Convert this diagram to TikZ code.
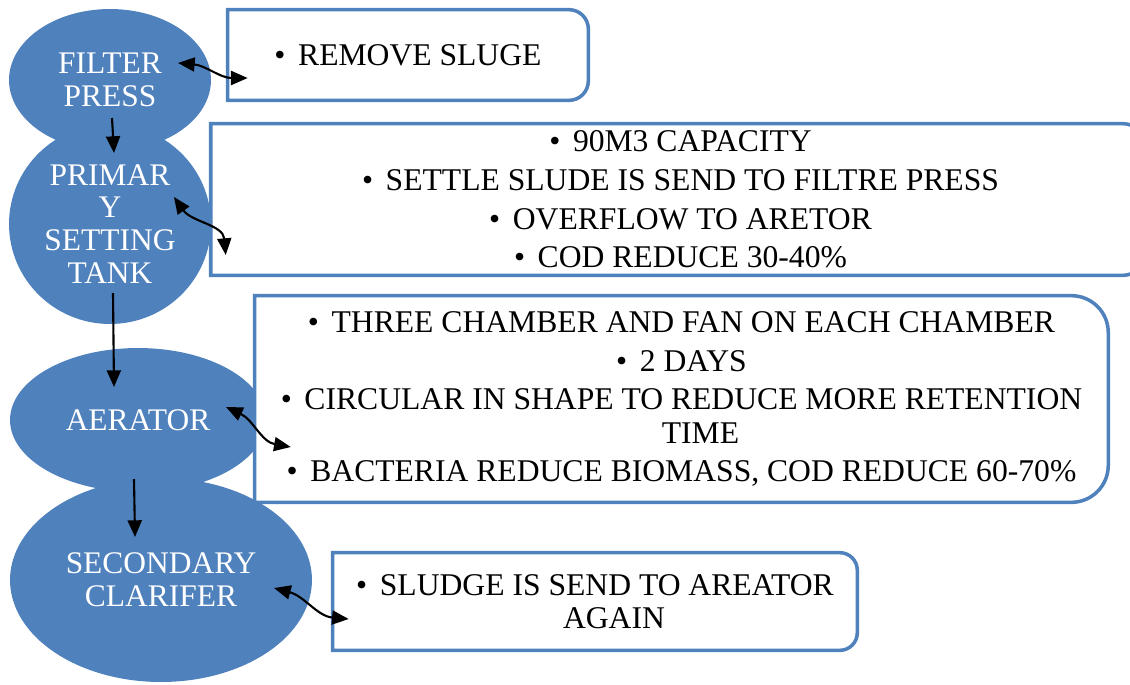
\documentclass[tikz,border=0pt]{standalone}
\usepackage{fontspec}
\setmainfont{Liberation Serif}
\usetikzlibrary{shapes.geometric,arrows.meta}

\definecolor{stageblue}{HTML}{4F81BD}

\tikzset{
  stage/.style={ellipse, fill=stageblue, text=white, inner sep=0pt, align=center,
    font=\fontsize{17.9pt}{18.7pt}\selectfont},
  note/.style={rectangle, fill=white, inner sep=0pt, align=center,
    font=\fontsize{18pt}{19pt}\selectfont},
  flow/.style={-{Triangle[length=9.5pt,width=8pt]}, line width=1.2pt},
  link/.style={{Triangle[length=9.5pt,width=8pt]}-{Triangle[length=9.5pt,width=8pt]}, line width=1.2pt},
}

% bullet of a note line
\newcommand{\bul}{•\hspace{0.4em}}

% frame of a note, round on its right side only
\newcommand{\noteframe}[2]{%
  \draw[stageblue, line width=2pt] (#1.south west) -- (#1.north west)
    -- ([xshift=-#2]#1.north east) arc[start angle=90, end angle=0, radius=#2]
    -- ([yshift=#2]#1.south east) arc[start angle=0, end angle=-90, radius=#2]
    -- cycle;}

\begin{document}
\begin{tikzpicture}[x=0.02cm, y=-0.02cm]
  \useasboundingbox (0, 0) rectangle (1130, 684);

  % stages
  \node[stage, minimum width=4.04cm, minimum height=2.84cm] (fp) at (110, 80) {FILTER\\PRESS};
  \node[stage, minimum width=4.04cm, minimum height=4.0cm] (pst) at (110, 224) {PRIMAR\\Y\\SETTING\\TANK};
  \node[stage, minimum width=5.12cm, minimum height=2.88cm] (aer) at (138, 420) {AERATOR};
  \node[stage, minimum width=6.04cm, minimum height=4.08cm] (sec) at (161, 580) {SECONDARY\\CLARIFER};

  % notes
  \node[note, minimum width=7.2cm, minimum height=1.8cm] (n1) at (408, 55) {\bul REMOVE SLUGE};
  \noteframe{n1}{11pt}
  \node[note, minimum width=18.78cm, minimum height=3.02cm] (n2) at (680.5, 199.5)
    {\bul 90M3 CAPACITY\\[3pt]\bul SETTLE SLUDE IS SEND TO FILTRE PRESS\\[3pt]\bul OVERFLOW TO ARETOR\\[3pt]\bul COD REDUCE 30-40\%};
  \noteframe{n2}{16pt}
  \node[note, minimum width=17.06cm, minimum height=4.12cm] (n3) at (681.5, 399)
    {\bul THREE CHAMBER AND FAN ON EACH CHAMBER\\[3pt]\bul 2 DAYS\\[3pt]\bul CIRCULAR IN SHAPE TO REDUCE MORE RETENTION\\\hspace*{1.2em}TIME\\[3pt]\bul BACTERIA REDUCE BIOMASS, COD REDUCE 60-70\%};
  \noteframe{n3}{21pt}
  \node[note, minimum width=10.48cm, minimum height=1.94cm] (n4) at (595, 601.5)
    {\bul SLUDGE IS SEND TO AREATOR\\\hspace*{1.2em}AGAIN};
  \noteframe{n4}{10pt}

  % flow down
  \draw[flow] ([shift={(2, 38)}]fp.center) -- ([shift={(4, -71)}]pst.center);
  \draw[flow] ([shift={(3, 69)}]pst.center) -- ([shift={(-24, -33)}]aer.center);
  \draw[flow] ([shift={(-4, 59)}]aer.center) -- ([shift={(-26, -43)}]sec.center);

  % links to notes
  \draw[link] ([shift={(68, -17)}]fp.center) to[out=-5, in=180] ([shift={(20, 23)}]n1.west);
  \draw[link] ([shift={(64, -27)}]pst.center) to[out=-55, in=95] ([shift={(15, 55.5)}]n2.west);
  \draw[link] ([shift={(88, -13)}]aer.center) to[out=-25, in=170] ([shift={(36, 48)}]n3.west);
  \draw[link] ([shift={(113, 8)}]sec.center) to[out=-15, in=175] ([shift={(16, 17.5)}]n4.west);
\end{tikzpicture}
\end{document}
